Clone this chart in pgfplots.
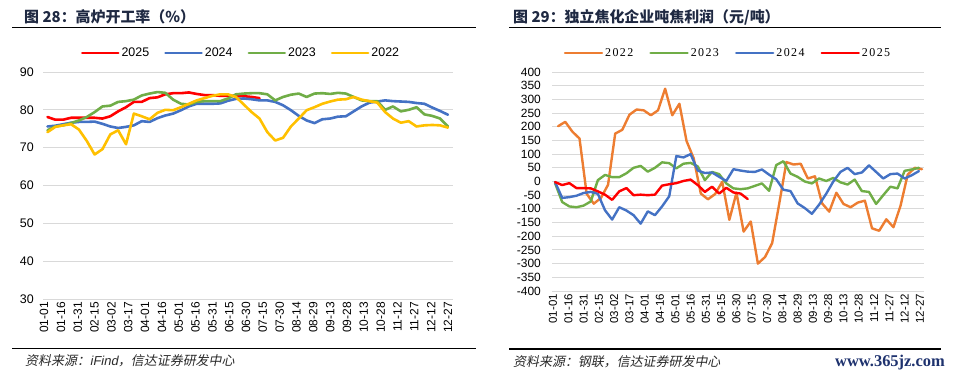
\documentclass[border=0pt]{standalone}
\usepackage{fontspec}
\usepackage{pgfplots}
\usepackage{pgfplotstable}
\pgfplotsset{compat=1.18}
\setmainfont{Liberation Sans}
\newfontfamily\cjk{Noto Sans CJK SC}
\newfontfamily\cjksl{Noto Sans CJK SC}[FakeSlant=0.2]
\newfontfamily\sansit{Liberation Sans}[FakeSlant=0.2]
\newfontfamily\serifleg{Liberation Serif}[LetterSpace=12]
\newfontfamily\wm{Liberation Serif}
\definecolor{c25}{RGB}{255,0,0}
\definecolor{c24}{RGB}{68,114,196}
\definecolor{c23}{RGB}{112,173,71}
\definecolor{c22}{RGB}{255,192,0}
\definecolor{c22o}{RGB}{237,125,49}
\definecolor{gridc}{RGB}{217,217,217}
\definecolor{titlec}{RGB}{31,41,66}
\definecolor{srcc}{RGB}{40,40,40}
\definecolor{wmc}{RGB}{30,50,110}

\pgfplotstableread{
x y25 y24 y23 y22
3 78.1 75.6 74.6 74.1
10 77.4 75.8 75.6 75.5
17 77.4 76.2 75.9 75.9
24 77.9 76.6 76.5 76.2
31 77.9 76.8 77.2 74.8
38 77.9 76.8 78.1 71.8
45 77.9 76.9 79.4 68.2
52 77.7 76.3 80.9 69.6
59 78.3 75.6 81.1 73.5
66 79.6 75.2 82.1 74.6
73 80.7 75.5 82.3 70.9
80 82.1 75.9 82.7 79.0
87 82.1 77.0 83.8 78.3
94 83.1 76.8 84.3 77.5
101 83.3 77.8 84.7 79.2
108 84.1 78.5 84.5 80.0
115 84.4 79.0 82.7 79.9
122 84.4 79.9 81.6 80.7
129 84.6 80.9 81.4 81.6
136 84.2 81.6 82.1 82.5
143 83.9 81.6 82.3 83.1
150 83.9 81.6 82.3 83.7
157 83.7 81.7 82.3 84.1
164 83.7 82.4 83.0 84.1
171 83.7 82.9 84.1 83.4
178 83.6 83.0 84.3 81.4
185 83.4 82.8 84.4 79.4
192 83.1 82.5 84.4 77.7
199 nan 82.5 84.1 74.1
206 nan 82.1 82.5 71.9
213 nan 81.2 83.4 72.6
220 nan 79.9 84.0 75.6
227 nan 78.4 84.3 77.7
234 nan 77.2 83.4 79.9
241 nan 76.5 84.3 80.7
248 nan 77.5 84.4 81.6
255 nan 77.7 84.2 82.2
262 nan 78.2 84.5 82.7
269 nan 78.3 84.3 82.8
276 nan 79.6 83.4 83.4
283 nan 80.9 82.5 82.7
290 nan 81.9 82.3 82.3
297 nan 82.2 82.3 81.9
304 nan 82.5 80.0 79.4
311 nan 82.3 80.9 77.7
318 nan 82.2 79.6 76.6
325 nan 82.1 80.0 77.0
332 nan 81.8 80.7 75.6
339 nan 81.6 78.8 75.9
346 nan 80.6 78.4 76.0
353 nan 79.7 77.7 75.9
360 nan 78.7 75.6 75.3
}\bfdata

\pgfplotstableread{
x y23 y24 y25
2 -6 -2 -2
9 -75 -60 -13
16 -91 -57 -6
23 -94 -52 -24
30 -88 -42 -24
37 -73 -38 -25
44 5 -45 -36
51 24 -105 -48
58 16 -139 -67
65 16 -94 -36
72 30 -106 -24
79 50 -123 -50
86 57 -154 -48
93 36 -109 -50
100 50 -123 -48
107 70 -91 -15
114 67 -54 -10
121 48 93 -6
128 65 88 2
135 68 100 7
142 55 40 -13
149 5 31 -38
156 35 33 -19
163 27 17 -44
170 -7 2 -23
177 -25 45 -40
184 -28 40 -44
191 -25 36 -64
198 -16 35 nan
205 -7 44 nan
212 -34 25 nan
219 60 8 nan
226 74 -30 nan
233 29 -35 nan
240 17 -80 nan
247 0 -97 nan
254 -7 -118 nan
261 11 -85 nan
268 2 -45 nan
275 13 0 nan
282 -3 35 nan
289 -11 50 nan
296 7 27 nan
303 -35 33 nan
310 -38 59 nan
317 -82 35 nan
324 -50 11 nan
331 -19 27 nan
338 -25 29 nan
345 39 11 nan
352 44 23 nan
359 50 38 nan
}\cokeA

\pgfplotstableread{
x y22
5 202
12 218
19 182
26 157
33 -45
40 -81
47 -60
54 -12
61 175
68 189
75 244
82 263
89 260
96 242
103 260
110 339
117 242
124 284
131 148
138 85
145 -44
152 -65
159 -46
166 -1
173 -140
180 -41
187 -183
194 -146
201 -300
208 -276
215 -225
222 -80
229 71
236 62
243 65
250 11
257 19
264 -80
271 -110
278 -41
285 -82
292 -94
299 -77
306 -70
313 -171
320 -180
327 -138
334 -167
341 -88
348 25
355 50
362 45
}\cokeB

\pgfplotsset{
  myaxis/.style={
    anchor=south west, scale only axis,
    axis line style={draw=none},
    major tick length=0pt,
    ymajorgrids, grid style={gridc, line width=0.9bp},
    xtick={0,15,...,360},
    xticklabels={01-01,01-16,01-31,02-15,03-02,03-17,04-01,04-16,05-01,05-16,05-31,06-15,06-30,07-15,07-30,08-14,08-29,09-13,09-28,10-13,10-28,11-12,11-27,12-12,12-27},
    xticklabel style={rotate=90, anchor=east, inner sep=0pt},
    xticklabel shift=3bp,
    yticklabel style={anchor=east, inner sep=0pt},
    /pgf/number format/assume math mode=true,
    legend cell align=left,
    every axis plot/.append style={line join=round, line cap=round},
  }
}

\begin{document}
\begin{tikzpicture}
\path[use as bounding box] (0bp,0bp) rectangle (953bp,-377bp);

% ---------- left panel ----------
\node[anchor=base west, text=titlec, font=\cjk\bfseries\fontsize{15}{15}\selectfont, inner sep=0pt] at (24bp,-22bp) {图 28：高炉开工率（\%）};
\draw[line width=1.8bp] (12bp,-27.5bp) -- (476bp,-27.5bp);
\draw[line width=1.8bp] (12bp,-348.5bp) -- (476bp,-348.5bp);
\node[anchor=base west, text=srcc, inner sep=0pt, font=\fontsize{13}{13}\selectfont] at (25bp,-365bp) {\cjksl 资料来源：{\sansit iFind}，信达证券研发中心};

\begin{axis}[myaxis,
  at={(43bp,-299bp)}, width=410bp, height=227bp,
  xmin=-1, xmax=364.5, ymin=30, ymax=90,
  ytick={30,40,...,90},
  xticklabel style={font=\fontsize{12}{12}\selectfont},
  yticklabel style={font=\fontsize{12.5}{12.5}\selectfont},
  yticklabel shift=9bp,
  legend style={at={(0.483,1.084)}, anchor=center, draw=none, fill=none,
    legend columns=4, font=\fontsize{12.5}{12.5}\selectfont,
    /tikz/every even column/.append style={column sep=13bp}},
  legend image code/.code={\draw[#1] (0bp,0bp) -- (36bp,0bp);},
]
\addplot[c25, line width=2.6bp] table[x=x, y=y25] {\bfdata};
\addlegendentry{2025}
\addplot[c24, line width=2.6bp] table[x=x, y=y24] {\bfdata};
\addlegendentry{2024}
\addplot[c23, line width=2.6bp] table[x=x, y=y23] {\bfdata};
\addlegendentry{2023}
\addplot[c22, line width=2.6bp] table[x=x, y=y22] {\bfdata};
\addlegendentry{2022}
\end{axis}

% ---------- right panel ----------
\node[anchor=base west, text=titlec, font=\cjk\bfseries\fontsize{15}{15}\selectfont, inner sep=0pt] at (513bp,-22bp) {图 29：独立焦化企业吨焦利润（元/吨）};
\draw[line width=1.8bp] (509bp,-27.5bp) -- (941bp,-27.5bp);
\draw[line width=1.8bp] (509bp,-349bp) -- (941bp,-349bp);
\node[anchor=base west, text=srcc, inner sep=0pt, font=\fontsize{13}{13}\selectfont] at (513bp,-366bp) {\cjksl 资料来源：钢联，信达证券研发中心};
\node[anchor=base east, text=wmc, inner sep=0pt, font=\wm\bfseries\fontsize{16.5}{16.5}\selectfont] at (945bp,-366bp) {www.365jz.com};

\begin{axis}[myaxis,
  at={(552bp,-291bp)}, width=372bp, height=219bp,
  xmin=-1, xmax=364, ymin=-400, ymax=400,
  ytick={-400,-350,...,400},
  xticklabel style={font=\fontsize{11.5}{11.5}\selectfont},
  yticklabel style={font=\fontsize{12}{12}\selectfont},
  yticklabel shift=11bp,
  legend style={at={(0.473,1.087)}, anchor=center, draw=none, fill=none,
    legend columns=4, font=\serifleg\fontsize{12}{12}\selectfont,
    /tikz/every even column/.append style={column sep=14bp}},
  legend image code/.code={\draw[#1] (0bp,0bp) -- (37bp,0bp);},
]
\addplot[c22o, line width=2.4bp] table[x=x, y=y22] {\cokeB};
\addlegendentry{2022}
\addplot[c23, line width=2.4bp] table[x=x, y=y23] {\cokeA};
\addlegendentry{2023}
\addplot[c24, line width=2.4bp] table[x=x, y=y24] {\cokeA};
\addlegendentry{2024}
\addplot[c25, line width=2.4bp] table[x=x, y=y25] {\cokeA};
\addlegendentry{2025}
\end{axis}
\end{tikzpicture}
\end{document}
